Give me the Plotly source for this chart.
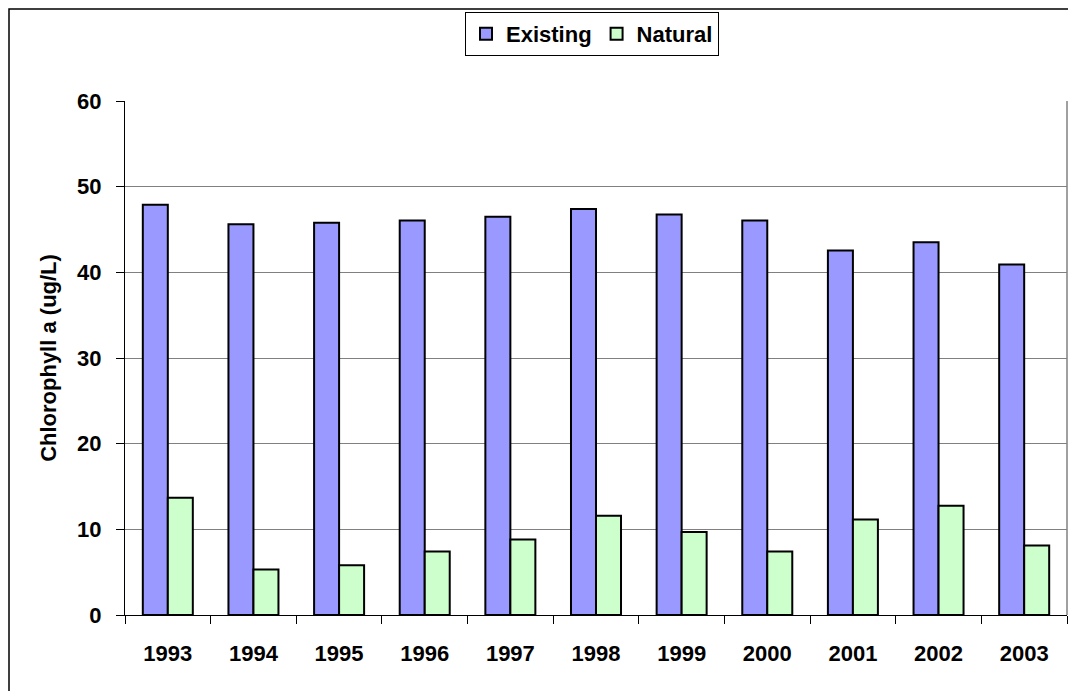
import plotly.graph_objects as go

years = ["1993", "1994", "1995", "1996", "1997", "1998", "1999", "2000", "2001", "2002", "2003"]
existing = [47.9, 45.6, 45.8, 46.05, 46.5, 47.4, 46.75, 46.05, 42.55, 43.5, 40.9]
natural = [13.7, 5.3, 5.8, 7.4, 8.8, 11.6, 9.7, 7.4, 11.15, 12.75, 8.1]
y_ticks = [0, 10, 20, 30, 40, 50, 60]

FONT = "Liberation Sans, Arial, sans-serif"
FS = 22

fig = go.Figure()
fig.add_trace(go.Bar(x=years, y=existing, name="<b>Existing</b>",
                     marker=dict(color="#9999FF", line=dict(color="black", width=2))))
fig.add_trace(go.Bar(x=years, y=natural, name="<b>Natural</b>",
                     marker=dict(color="#CCFFCC", line=dict(color="black", width=2))))

# page is offset by the 8px body margin
OFF = 8
W, H = 1076, 691
L = 125 - OFF
T = 101 - OFF
pw = 1067 - 125
ph = 615 - 101
R = W - L - pw
B = H - T - ph

def px(xpage):
    return (xpage - OFF - L) / pw

def py(ypage):
    return (T + ph - (ypage - OFF)) / ph

fig.update_layout(
    width=W, height=H,
    margin=dict(l=L, r=R, t=T, b=B, autoexpand=False),
    paper_bgcolor="white", plot_bgcolor="white",
    barmode="group", bargap=0.416, bargroupgap=0,
    font=dict(family=FONT, size=FS, color="black"),
    showlegend=True,
    legend=dict(orientation="h", x=px(592), xanchor="center", y=py(12), yanchor="top",
                bordercolor="black", borderwidth=1, bgcolor="white",
                font=dict(family=FONT, size=FS, color="black"),
                itemwidth=30, tracegroupgap=0),
    xaxis=dict(type="category", tickson="boundaries", ticks="outside", ticklen=8,
               tickcolor="black", showline=True, linecolor="black", linewidth=1,
               tickfont=dict(family=FONT, size=FS, color="black"),
               tickprefix="<b>", ticksuffix="</b>", ticklabelstandoff=19,
               showgrid=False, zeroline=False),
    yaxis=dict(range=[0, 60], tickvals=y_ticks, ticktext=[f"<b>{v}</b>" for v in y_ticks],
               ticks="outside", ticklen=8,
               tickcolor="black", showline=True, linecolor="black", linewidth=1,
               showgrid=True, gridcolor="#808080", gridwidth=1, zeroline=False,
               ticklabelstandoff=10,
               tickfont=dict(family=FONT, size=FS, color="black"),
               title=dict(text="<b>Chlorophyll a (ug/L)</b>", standoff=14,
                          font=dict(family=FONT, size=FS, color="black"))),
    shapes=[
        dict(type="line", xref="paper", yref="paper", x0=1, x1=1, y0=0, y1=1,
             line=dict(color="#808080", width=1.5)),
        dict(type="rect", xref="paper", yref="paper", x0=px(OFF + 1), x1=px(1090),
             y0=py(705), y1=py(OFF + 1), line=dict(color="black", width=1.5), layer="below"),
    ],
)

fig.write_html("out.html")
